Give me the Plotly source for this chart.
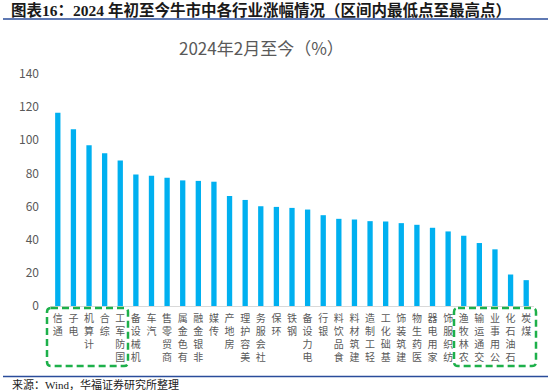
import plotly.graph_objects as go

categories = ["通信", "电子", "计算机", "综合", "国防军工", "机械设备", "汽车", "商贸零售",
              "有色金属", "非银金融", "传媒", "房地产", "美容护理", "社会服务", "环保", "钢铁",
              "电力设备", "银行", "食品饮料", "建筑材料", "轻工制造", "基础化工", "建筑装饰",
              "医药生物", "家用电器", "纺织服饰", "农林牧渔", "交通运输", "公用事业", "石油石化", "煤炭"]
values = [116.6, 106.6, 97.0, 92.2, 87.8, 79.4, 78.6, 77.4, 75.8, 75.5, 75.0, 66.4, 64.0,
          60.2, 59.8, 59.2, 58.2, 54.8, 52.6, 52.2, 51.2, 51.0, 50.0, 49.0, 47.2, 45.0,
          42.4, 38.0, 34.2, 19.0, 15.6]
y_ticks = [0, 20, 40, 60, 80, 100, 120, 140]

W, H = 550, 390
L, R, T, B = 50, 16, 74, 84
PW, PH = W - L - R, H - T - B

def px(x):
    return (x - L) / PW

def py(y):
    return (H - B - y) / PH

# stacked, upright characters (read bottom to top, as in the reference)
tick_text = ["<br>".join(list(c)[::-1]) for c in categories]

fig = go.Figure()
fig.add_trace(go.Bar(x=categories, y=values, marker=dict(color="#00B0F0", line=dict(width=0)),
                     hoverinfo="x+y"))

def rounded_box(x0, y0, x1, y1, r=4):
    rx, ry = r / PW, r / PH
    X0, X1, Y0, Y1 = px(x0), px(x1), py(y1), py(y0)
    return (f"M {X0+rx} {Y1} L {X1-rx} {Y1} Q {X1} {Y1} {X1} {Y1-ry} "
            f"L {X1} {Y0+ry} Q {X1} {Y0} {X1-rx} {Y0} L {X0+rx} {Y0} "
            f"Q {X0} {Y0} {X0} {Y0+ry} L {X0} {Y1-ry} Q {X0} {Y1} {X0+rx} {Y1} Z")

shapes = [
    dict(type="line", xref="paper", yref="paper", x0=px(3), x1=px(548), y0=py(19), y1=py(19),
         line=dict(color="#2A4C9A", width=1.5)),
    dict(type="line", xref="paper", yref="paper", x0=px(3), x1=px(548), y0=py(376.5), y1=py(376.5),
         line=dict(color="#2A4C9A", width=1.5)),
    dict(type="path", xref="paper", yref="paper", path=rounded_box(47, 308, 128, 366),
         line=dict(color="#1DB04A", width=2.5, dash="7px,4px")),
    dict(type="path", xref="paper", yref="paper", path=rounded_box(454, 308, 536, 366),
         line=dict(color="#1DB04A", width=2.5, dash="7px,4px")),
]

annotations = [
    dict(text="<b>图表16：2024 年初至今牛市中各行业涨幅情况（区间内最低点至最高点）</b>",
         xref="paper", yref="paper", x=px(9), y=py(10), xanchor="left", yanchor="middle",
         showarrow=False, font=dict(family="Liberation Serif, Noto Sans CJK SC", size=15.5, color="#1a1a1a")),
    dict(text="2024年2月至今（%）", xref="paper", yref="paper", x=px(261), y=py(47.5),
         xanchor="center", yanchor="middle", showarrow=False,
         font=dict(family="Noto Sans CJK SC", size=17, color="#595959")),
    dict(text="来源：Wind，华福证券研究所整理", xref="paper", yref="paper", x=px(10), y=py(384),
         xanchor="left", yanchor="middle", showarrow=False,
         font=dict(family="Liberation Serif, Noto Sans CJK SC", size=11, color="#1a1a1a")),
]

fig.update_layout(
    width=W, height=H,
    margin=dict(l=L, r=R, t=T, b=B, pad=0),
    paper_bgcolor="white", plot_bgcolor="white",
    showlegend=False,
    bargap=0.66,
    shapes=shapes,
    annotations=annotations,
    font=dict(family="Noto Sans CJK SC", color="#595959"),
)
fig.update_xaxes(
    type="category", tickmode="array", tickvals=categories, ticktext=tick_text,
    tickangle=0, showline=True, linecolor="#D9D9D9", linewidth=1, showgrid=False,
    ticks="", ticklabelstandoff=3, automargin=False,
    tickfont=dict(family="Noto Sans CJK SC", size=10, color="#595959"),
)
fig.update_yaxes(
    range=[0, 140], tickmode="array", tickvals=y_ticks, showgrid=False, zeroline=False,
    showline=False, ticks="", ticklabelstandoff=10, automargin=False,
    tickfont=dict(family="Noto Sans CJK SC", size=12, color="#595959"),
)

fig.write_html("out.html", config={"displayModeBar": False},
               post_script="document.body.style.margin='0';")
